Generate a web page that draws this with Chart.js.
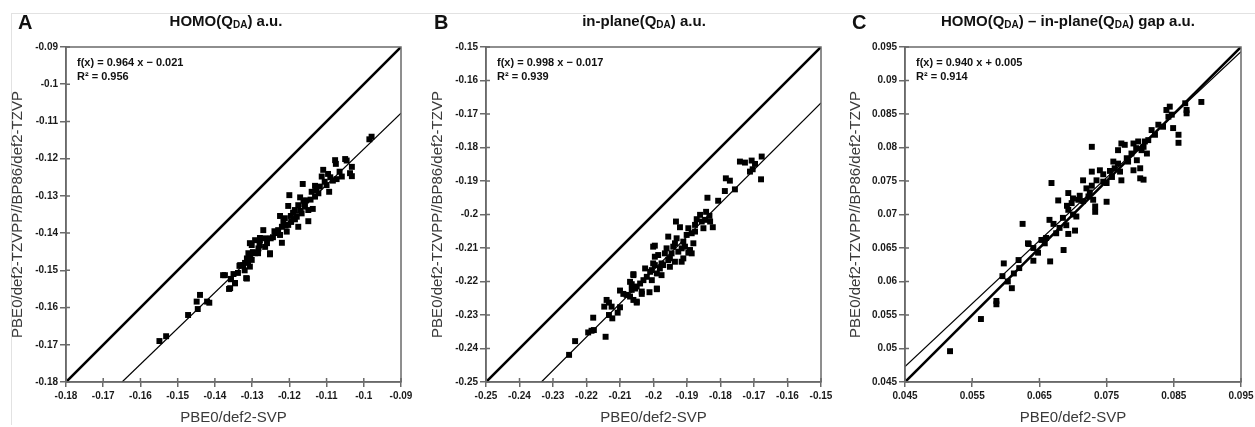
<!DOCTYPE html>
<html>
<head>
<meta charset="utf-8">
<script src="https://cdn.jsdelivr.net/npm/chart.js@4.4.1/dist/chart.umd.min.js"></script>
<style>
  body { margin: 0; width: 1255px; height: 427px; overflow: hidden; background: #fff; font-family: "Liberation Sans", Arial, sans-serif; }
  .frame { position: absolute; left: 11px; top: 13px; width: 1300px; height: 411px; border-top: 1px solid #e2e2e2; border-left: 1px solid #e2e2e2; }
  .panel { position: absolute; top: 0; }
  .letter { position: absolute; top: 11px; font-weight: bold; font-size: 20px; color: #111; }
  .title { position: absolute; top: 12px; font-weight: bold; font-size: 15px; color: #111; transform: translateX(-50%); white-space: nowrap; }
  .title sub { font-size: 10px; vertical-align: -2px; }
</style>
</head>
<body>
<div class="frame"></div>
<canvas id="chartA" class="panel" style="left:0px" width="420" height="427"></canvas>
<canvas id="chartB" class="panel" style="left:420px" width="420" height="427"></canvas>
<canvas id="chartC" class="panel" style="left:838px" width="430" height="427"></canvas>
<div class="letter" style="left:18px">A</div>
<div class="letter" style="left:434px">B</div>
<div class="letter" style="left:852px">C</div>
<div class="title" style="left:226px">HOMO(Q<sub>DA</sub>) a.u.</div>
<div class="title" style="left:644px">in-plane(Q<sub>DA</sub>) a.u.</div>
<div class="title" style="left:1068px">HOMO(Q<sub>DA</sub>) – in-plane(Q<sub>DA</sub>) gap a.u.</div>
<script>
// panel A: HOMO
const xA = [-0.1549, -0.1531, -0.1472, -0.1446, -0.1449, -0.1440, -0.1421, -0.1415, -0.1378, -0.1362,
  -0.1346, -0.1357, -0.1338, -0.1316, -0.1332, -0.1319, -0.1306, -0.1311, -0.1298, -0.1284,
  -0.1252, -0.1306, -0.1279, -0.1260, -0.1244, -0.1233, -0.0979, -0.0985, -0.1077, -0.1075,
  -0.1050, -0.1046, -0.1032, -0.1037, -0.1032, -0.1109, -0.1096, -0.1113, -0.1083, -0.1073,
  -0.1059, -0.1100, -0.1093, -0.1131, -0.1164, -0.1140, -0.1131, -0.1122, -0.1200, -0.1171,
  -0.1162, -0.1176, -0.1158, -0.1203, -0.1149, -0.1137, -0.1185, -0.1167, -0.1225, -0.1212,
  -0.1196, -0.1180, -0.1149, -0.1216, -0.1203, -0.1176, -0.1220, -0.1230, -0.1207, -0.1270,
  -0.1238, -0.1225, -0.1250, -0.1279, -0.1265, -0.1292, -0.1301, -0.1220, -0.1283, -0.1265,
  -0.1252, -0.1310, -0.1292, -0.1314, -0.1301, -0.1324, -0.1306, -0.1334, -0.1350, -0.1373,
  -0.1357, -0.1346, -0.1314, -0.1359, -0.1190, -0.1185, -0.1170, -0.1160, -0.1155, -0.1143,
  -0.1128, -0.1118, -0.1105, -0.1090, -0.1065, -0.1210, -0.1240, -0.1195, -0.1280, -0.1320];
const yA = [-0.1690, -0.1677, -0.1620, -0.1604, -0.1584, -0.1566, -0.1584, -0.1587, -0.1513, -0.1550,
  -0.1534, -0.1523, -0.1507, -0.1521, -0.1486, -0.1480, -0.1459, -0.1478, -0.1451, -0.1454,
  -0.1454, -0.1427, -0.1413, -0.1427, -0.1411, -0.1400, -0.1141, -0.1148, -0.1204, -0.1214,
  -0.1201, -0.1205, -0.1222, -0.1239, -0.1247, -0.1230, -0.1241, -0.1248, -0.1259, -0.1255,
  -0.1248, -0.1271, -0.1289, -0.1273, -0.1268, -0.1289, -0.1302, -0.1293, -0.1298, -0.1304,
  -0.1313, -0.1325, -0.1329, -0.1327, -0.1338, -0.1335, -0.1338, -0.1347, -0.1354, -0.1360,
  -0.1354, -0.1356, -0.1368, -0.1369, -0.1378, -0.1383, -0.1383, -0.1392, -0.1396, -0.1392,
  -0.1399, -0.1405, -0.1414, -0.1419, -0.1414, -0.1419, -0.1432, -0.1426, -0.1441, -0.1437,
  -0.1457, -0.1454, -0.1454, -0.1468, -0.1472, -0.1486, -0.1490, -0.1488, -0.1510, -0.1513,
  -0.1524, -0.1535, -0.1522, -0.1548, -0.1345, -0.1363, -0.1340, -0.1322, -0.1312, -0.1310,
  -0.1285, -0.1275, -0.1262, -0.1250, -0.1235, -0.1380, -0.1395, -0.1370, -0.1432, -0.1500];
const ticksA = [-0.18, -0.17, -0.16, -0.15, -0.14, -0.13, -0.12, -0.11, -0.1, -0.09];

// panel B: in-plane
const xB = [-0.2252, -0.2234, -0.2195, -0.2185, -0.2178, -0.2180, -0.2143, -0.2147, -0.2125, -0.2133,
  -0.2123, -0.2107, -0.2100, -0.2140, -0.2050, -0.2133, -0.2100, -0.2090, -0.2065, -0.2070,
  -0.2065, -0.2060, -0.2050, -0.2035, -0.2012, -0.1990, -0.2030, -0.2020, -0.2005, -0.2025,
  -0.2010, -0.1996, -0.1981, -0.1990, -0.1976, -0.1996, -0.1986, -0.1996, -0.1966, -0.1951,
  -0.1961, -0.1941, -0.1926, -0.1916, -0.1956, -0.1931, -0.1936, -0.1911, -0.1906, -0.1891,
  -0.1901, -0.1881, -0.1876, -0.1886, -0.1677, -0.1742, -0.1727, -0.1707, -0.1697, -0.1712,
  -0.1704, -0.1679, -0.1784, -0.1772, -0.1757, -0.1787, -0.1807, -0.1839, -0.1843, -0.1861,
  -0.1833, -0.1846, -0.1831, -0.1856, -0.1823, -0.1851, -0.1871, -0.1876, -0.1933, -0.1921,
  -0.1896, -0.1886, -0.2001, -0.1916, -0.1946, -0.1896, -0.1911, -0.1956, -0.1936, -0.2001,
  -0.1971, -0.1951, -0.2005, -0.1976, -0.2060, -0.2070, -0.2040, -0.2055, -0.1990, -0.2080,
  -0.2035, -0.2060, -0.2050];
const yB = [-0.2419, -0.2378, -0.2352, -0.2347, -0.2345, -0.2308, -0.2365, -0.2275, -0.2275, -0.2300,
  -0.2310, -0.2293, -0.2277, -0.2255, -0.2260, -0.2263, -0.2227, -0.2237, -0.2208, -0.2245,
  -0.2225, -0.2178, -0.2215, -0.2230, -0.2232, -0.2223, -0.2196, -0.2186, -0.2196, -0.2161,
  -0.2171, -0.2151, -0.2161, -0.2176, -0.2146, -0.2126, -0.2121, -0.2093, -0.2116, -0.2131,
  -0.2101, -0.2096, -0.2111, -0.2141, -0.2066, -0.2071, -0.2086, -0.2081, -0.2096, -0.2106,
  -0.2061, -0.2086, -0.2051, -0.2116, -0.1827, -0.1842, -0.1845, -0.1839, -0.1849, -0.1872,
  -0.1865, -0.1895, -0.1892, -0.1899, -0.1925, -0.1930, -0.1959, -0.1950, -0.1992, -0.2001,
  -0.2004, -0.2016, -0.2021, -0.2021, -0.2038, -0.2041, -0.2014, -0.2031, -0.2021, -0.2038,
  -0.2041, -0.2056, -0.2096, -0.2101, -0.2116, -0.2114, -0.2131, -0.2136, -0.2141, -0.2146,
  -0.2151, -0.2156, -0.2166, -0.2181, -0.2181, -0.2201, -0.2206, -0.2221, -0.2221, -0.2240,
  -0.2237, -0.2255, -0.2263];
const ticksB = [-0.25, -0.24, -0.23, -0.22, -0.21, -0.2, -0.19, -0.18, -0.17, -0.16, -0.15];

// panel C: gap
const xC = [0.0517, 0.0563, 0.0586, 0.0586, 0.0603, 0.0609, 0.0595, 0.0597, 0.0619, 0.0625,
  0.0633, 0.0641, 0.0641, 0.0648, 0.0653, 0.0634, 0.0658, 0.0666, 0.0686, 0.0693,
  0.0703, 0.0690, 0.0665, 0.0671, 0.0668, 0.0678, 0.0691, 0.0693, 0.0705, 0.0693,
  0.0700, 0.0698, 0.0708, 0.0715, 0.0720, 0.0723, 0.0728, 0.0730, 0.0733, 0.0750,
  0.0733, 0.0728, 0.0740, 0.0735, 0.0750, 0.0745, 0.0758, 0.0762, 0.0767, 0.0760,
  0.0770, 0.0772, 0.0728, 0.0767, 0.0777, 0.0772, 0.0780, 0.0787, 0.0794, 0.0790,
  0.0797, 0.0782, 0.0795, 0.0790, 0.0800, 0.0800, 0.0805, 0.0802, 0.0805, 0.0810,
  0.0807, 0.0812, 0.0817, 0.0822, 0.0827, 0.0834, 0.0849, 0.0857, 0.0857, 0.0839,
  0.0844, 0.0847, 0.0842, 0.0869, 0.0869, 0.0891, 0.0867, 0.0710, 0.0715, 0.0725,
  0.0745, 0.0755, 0.0660, 0.0675, 0.0680, 0.0700, 0.0685, 0.0620, 0.0612];
const yC = [0.0496, 0.0544, 0.0566, 0.0571, 0.0600, 0.0590, 0.0608, 0.0627, 0.0632, 0.0686,
  0.0657, 0.0650, 0.0631, 0.0643, 0.0662, 0.0656, 0.0657, 0.0630, 0.0647, 0.0671,
  0.0676, 0.0684, 0.0692, 0.0686, 0.0747, 0.0721, 0.0713, 0.0707, 0.0697, 0.0732,
  0.0724, 0.0717, 0.0722, 0.0751, 0.0739, 0.0727, 0.0743, 0.0722, 0.0712, 0.0719,
  0.0704, 0.0764, 0.0766, 0.0751, 0.0747, 0.0749, 0.0756, 0.0769, 0.0776, 0.0779,
  0.0764, 0.0751, 0.0801, 0.0796, 0.0804, 0.0806, 0.0784, 0.0791, 0.0799, 0.0806,
  0.0809, 0.0779, 0.0781, 0.0766, 0.0769, 0.0754, 0.0752, 0.0796, 0.0801, 0.0791,
  0.0809, 0.0811, 0.0826, 0.0819, 0.0834, 0.0831, 0.0829, 0.0819, 0.0807, 0.0856,
  0.0861, 0.0849, 0.0846, 0.0856, 0.0851, 0.0868, 0.0866, 0.0728, 0.0720, 0.0733,
  0.0760, 0.0765, 0.0665, 0.0672, 0.0680, 0.0700, 0.0695, 0.0620, 0.0612];
const xTicksC = [0.045, 0.055, 0.065, 0.075, 0.085, 0.095];
const yTicksC = [0.045, 0.05, 0.055, 0.06, 0.065, 0.07, 0.075, 0.08, 0.085, 0.09, 0.095];

// regression lines shown in each panel
const fitSlope = [0.964, 0.998, 0.940];
const fitIntercept = [-0.021, -0.017, 0.005];
const fitR2 = [0.956, 0.939, 0.914];

const AXIS_COLOR = "#6a6a6a";
const FONT = "'Liberation Sans', Arial, sans-serif";

const framePlugin = {
  id: "frame",
  afterDraw(chart, args, opts) {
    const { ctx, chartArea: a, scales } = chart;
    ctx.save();
    ctx.strokeStyle = AXIS_COLOR;
    ctx.lineWidth = 1.5;
    ctx.strokeRect(a.left, a.top, a.right - a.left, a.bottom - a.top);
    // tick marks also stick into the plot
    ctx.beginPath();
    scales.x.ticks.forEach((t) => {
      const px = scales.x.getPixelForValue(t.value);
      ctx.moveTo(px, a.bottom);
      ctx.lineTo(px, a.bottom - 4);
    });
    scales.y.ticks.forEach((t) => {
      const py = scales.y.getPixelForValue(t.value);
      ctx.moveTo(a.left, py);
      ctx.lineTo(a.left + 4, py);
    });
    ctx.stroke();
    ctx.fillStyle = "#111";
    ctx.font = "bold 11px " + FONT;
    ctx.textBaseline = "middle";
    ctx.fillText(opts.fitText, a.left + 11, a.top + 16);
    ctx.fillText(opts.r2Text, a.left + 11, a.top + 30);
    ctx.restore();
  },
};

function fmt(v) {
  return String(parseFloat(v.toFixed(4)));
}

function makePanel(id, xs, ys, xTicks, yTicks, i, rightPad, leftW) {
  const lo = xTicks[0], hi = xTicks[xTicks.length - 1];
  const m = fitSlope[i], b = fitIntercept[i];
  // fit line clipped to the plot range
  const fx0 = Math.max(lo, (lo - b) / m);
  const fx1 = Math.min(hi, (hi - b) / m);
  const points = xs.map((x, k) => ({ x: x, y: ys[k] }));
  const sign = b < 0 ? "\u2212" : "+";
  const fitText = `f(x) = ${m.toFixed(3)} x ${sign} ${Math.abs(b).toFixed(3)}`;

  const axis = (ticks, isX) => ({
    type: "linear",
    min: ticks[0],
    max: ticks[ticks.length - 1],
    afterBuildTicks: (s) => { s.ticks = ticks.map((v) => ({ value: v })); },
    afterFit: (s) => { if (isX) s.height = 45; else s.width = leftW; },
    grid: { drawOnChartArea: false, color: AXIS_COLOR, lineWidth: 1.5, tickLength: isX ? 5 : 6 },
    border: { color: AXIS_COLOR, width: 1.5 },
    ticks: {
      color: "#1a1a1a",
      font: { family: FONT, size: 10, weight: "bold" },
      padding: isX ? 3 : 2,
      maxRotation: 0,
      autoSkip: false,
      callback: (v) => fmt(v),
    },
    title: {
      display: true,
      text: isX ? "PBE0/def2-SVP" : "PBE0/def2-TZVPP//BP86/def2-TZVP",
      color: "#3a3a3a",
      font: { family: FONT, size: 15 },
      padding: isX ? { top: 0, bottom: 0 } : { top: 9, bottom: 0 },
    },
  });

  return new Chart(document.getElementById(id), {
    type: "scatter",
    data: {
      datasets: [
        {
          label: "data",
          data: points,
          backgroundColor: "#000",
          borderColor: "#000",
          pointStyle: "rect",
          pointRadius: 4.2,
          borderWidth: 0,
          order: 0,
        },
        {
          label: "y = x",
          data: [{ x: lo, y: yTicks[0] }, { x: hi, y: yTicks[yTicks.length - 1] }],
          showLine: true,
          borderColor: "#000",
          borderWidth: 2.6,
          pointRadius: 0,
          order: 1,
        },
        {
          label: "fit",
          data: [{ x: fx0, y: m * fx0 + b }, { x: fx1, y: m * fx1 + b }],
          showLine: true,
          borderColor: "#000",
          borderWidth: 1.2,
          pointRadius: 0,
          order: 2,
        },
      ],
    },
    options: {
      responsive: false,
      animation: false,
      layout: { padding: { top: 47, right: rightPad, left: 0, bottom: 0 } },
      plugins: {
        legend: { display: false },
        tooltip: { enabled: false },
        frame: { fitText: fitText, r2Text: `R\u00b2 = ${fitR2[i].toFixed(3)}` },
      },
      scales: { x: axis(xTicks, true), y: axis(yTicks, false) },
    },
    plugins: [framePlugin],
  });
}

makePanel("chartA", xA, yA, ticksA, ticksA, 0, 19, 66);
makePanel("chartB", xB, yB, ticksB, ticksB, 1, 19, 66);
makePanel("chartC", xC, yC, xTicksC, yTicksC, 2, 27, 67);
</script>
</body>
</html>
